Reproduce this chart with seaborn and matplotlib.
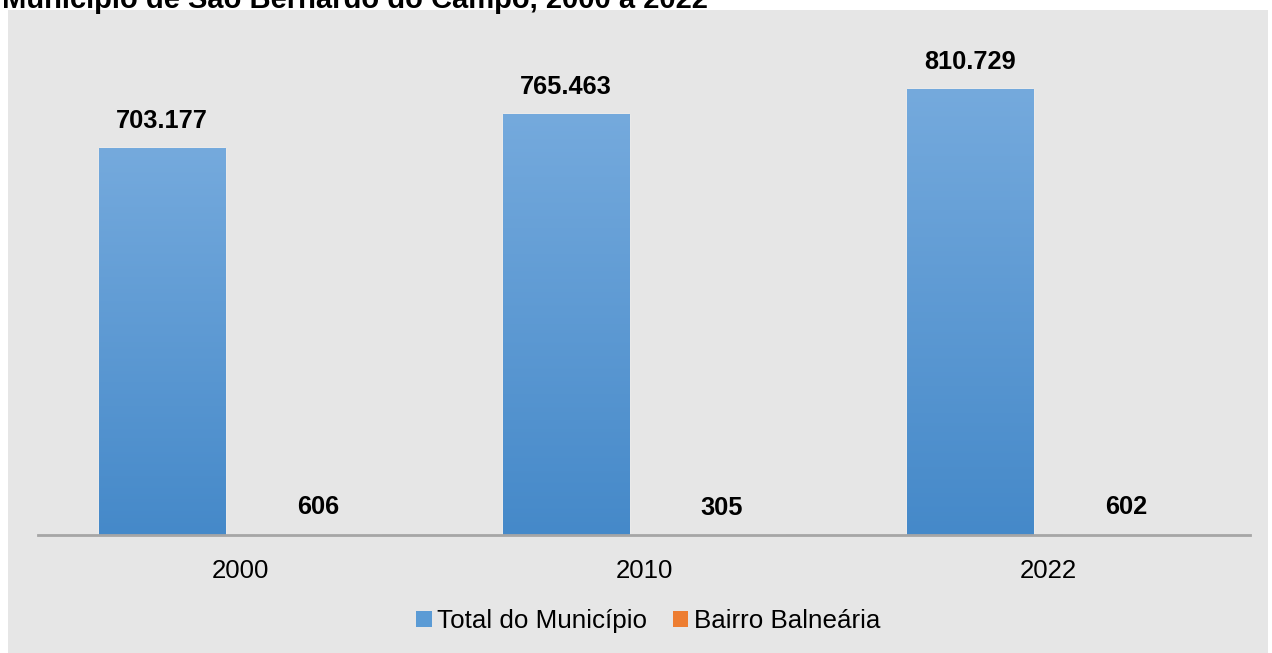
import matplotlib
matplotlib.use("Agg")
import matplotlib.pyplot as plt
import seaborn as sns
import pandas as pd
import numpy as np
from matplotlib.colors import LinearSegmentedColormap

years = ["2000", "2010", "2022"]
series_names = ["Total do Município", "Bairro Balneária"]
total_values = [703177, 765463, 810729]
bairro_values = [606, 305, 602]
value_labels_total = ["703.177", "765.463", "810.729"]
value_labels_bairro = ["606", "305", "602"]
title_text = "Município de São Bernardo do Campo, 2000 a 2022"

df = pd.DataFrame({
    "Ano": years * 2,
    "Série": [series_names[0]] * 3 + [series_names[1]] * 3,
    "Valor": total_values + bairro_values,
})

sns.set_style("white")
plt.rcParams["font.family"] = ["Liberation Sans", "DejaVu Sans"]
plt.rcParams["text.color"] = "black"

fig = plt.figure(figsize=(12.72, 6.53), dpi=100)
fig.patch.set_facecolor("white")

# gray chart area (background axes)
bg = fig.add_axes([8 / 1272, 0, 1260 / 1272, 643 / 653], zorder=-10)
bg.set_facecolor("#e6e6e6")
bg.set_xticks([]); bg.set_yticks([])
for s in bg.spines.values():
    s.set_visible(False)

ax = fig.add_axes([38 / 1272, 118 / 653, 1212 / 1272, 515 / 653], zorder=1)
ax.set_facecolor("none")

palette = {series_names[0]: "#5b9bd5", series_names[1]: "#ed7d31"}
sns.barplot(data=df, x="Ano", y="Valor", hue="Série", palette=palette,
            width=0.772, gap=0.19, ax=ax, legend=True, saturation=1)

ax.set_xlim(-0.5, 2.5)
ax.set_ylim(0, 936000)

# gradients
grads = {
    series_names[0]: LinearSegmentedColormap.from_list("b", ["#4589c9", "#75aadd"]),
    series_names[1]: LinearSegmentedColormap.from_list("o", ["#d9691f", "#f4914c"]),
}
grad_img = np.linspace(0, 1, 256).reshape(-1, 1)
for container, name in zip(ax.containers, series_names):
    for p in container.patches:
        x0 = p.get_x(); w = p.get_width(); h = p.get_height()
        im = ax.imshow(grad_img, cmap=grads[name], origin="lower", aspect="auto",
                       extent=(x0, x0 + w, 0, h), zorder=p.get_zorder() + 0.1)
        im.set_clip_path(p)
    ax.bar_label(container,
                 labels=value_labels_total if name == series_names[0] else value_labels_bairro,
                 padding=11, fontsize=18.3, fontweight="bold", color="black")
ax.set_xlim(-0.5, 2.5)
ax.set_ylim(0, 936000)

for s in ["top", "right", "left"]:
    ax.spines[s].set_visible(False)
ax.spines["bottom"].set_color("#a6a6a6")
ax.spines["bottom"].set_linewidth(2)
ax.set_yticks([])
ax.set_xlabel("")
ax.set_ylabel("")
ax.tick_params(axis="x", length=0, labelsize=18.5, pad=17, colors="black")

leg = ax.legend(loc="center", bbox_to_anchor=(648 / 1272, 32 / 653),
                bbox_transform=fig.transFigure, ncol=2, frameon=False,
                fontsize=18.7, handlelength=0.6, handleheight=0.6,
                handletextpad=0.2, columnspacing=1.0, labelcolor="black")
for h in leg.legend_handles:
    h.set_edgecolor("none")

fig.text(2 / 1272, 1 - 8 / 653, title_text, fontsize=21, fontweight="bold",
         ha="left", va="baseline", color="black")

fig.savefig("out.png", dpi=100)
